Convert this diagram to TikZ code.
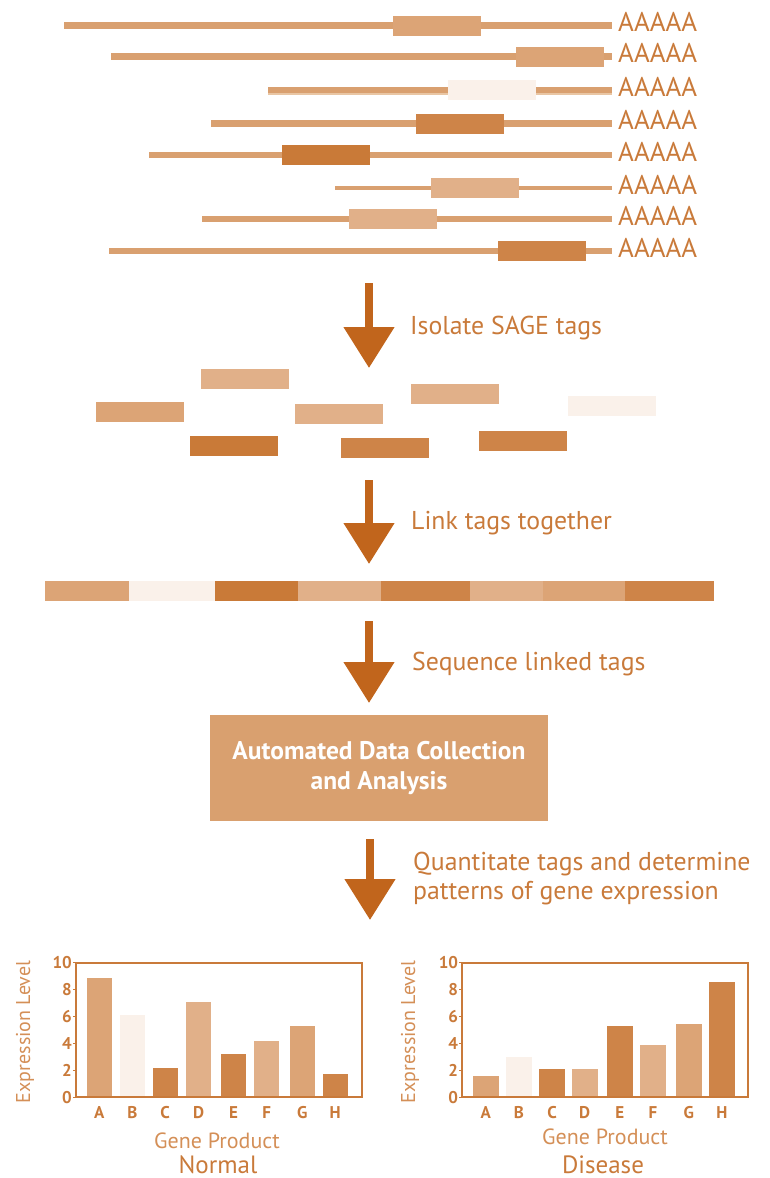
\documentclass[tikz,border=0pt]{standalone}
\usepackage{fontspec}
\setmainfont{PT Sans}
\usetikzlibrary{arrows.meta}

\definecolor{tanM}{HTML}{DCA476}
\definecolor{tanL}{HTML}{E1B089}
\definecolor{tanVL}{HTML}{FAF1EA}
\definecolor{tanD}{HTML}{CE8448}
\definecolor{tanDD}{HTML}{C97A38}
\definecolor{tanLine}{HTML}{D9A070}
\definecolor{tanPale}{HTML}{E9C6A4}
\definecolor{arrowc}{HTML}{C1651C}
\definecolor{txtc}{HTML}{C97A3A}
\definecolor{txtl}{HTML}{D48F57}
\definecolor{boxc}{HTML}{D9A06F}

\tikzset{
  mrna/.style={line width=6.5pt, tanLine},
  tagbox/.style={rectangle, inner sep=0pt, minimum width=88pt, minimum height=20pt},
  polyA/.style={anchor=base west, inner sep=0pt, text=txtc, font=\fontsize{27}{30}\selectfont},
  stepnote/.style={anchor=base west, inner sep=0pt, text=txtc, font=\fontsize{25.8}{30}\selectfont, align=left},
  flow/.style={arrowc, line width=8pt, -{Triangle[width=49pt,length=41pt]}},
  frame/.style={draw=txtc, line width=2pt},
  ticklab/.style={anchor=base east, inner sep=0pt, text=txtc, font=\bfseries\fontsize{17}{20}\selectfont},
  barlab/.style={anchor=base, inner sep=0pt, text=txtc, font=\bfseries\fontsize{17}{20}\selectfont},
  axtitle/.style={anchor=base, inner sep=0pt, text=txtl, font=\fontsize{22}{26}\selectfont},
  ytitle/.style={anchor=center, inner sep=0pt, text=txtl, rotate=90, font=\fontsize{20}{24}\selectfont},
  charttitle/.style={anchor=base, inner sep=0pt, text=txtc, font=\fontsize{25}{30}\selectfont},
}

\begin{document}
\begin{tikzpicture}[x=1pt, y=-1pt]
\useasboundingbox (0,0) rectangle (769,1178);

% ---- transcripts with their tag regions and poly-A tails ----
\foreach \n/\xs/\yy/\bx/\col in {1/64/25.7/437/tanM, 2/111/56.7/560/tanM, 3/268/90/492/tanVL,
    4/211/123.7/460/tanD, 5/149/155/326/tanDD, 6/335/188/474.5/tanL, 7/202/219/392.5/tanL,
    8/109/251/542/tanD}{
  \ifnum\n=3
    \draw[line width=3pt, tanPale] (\xs,\yy+3) -- (612,\yy+3);
  \fi
  \ifnum\n=6
    \draw[mrna, line width=4.5pt] (\xs,\yy) coordinate (m\n a) -- (612,\yy) coordinate (m\n b);
  \else
    \draw[mrna] (\xs,\yy) coordinate (m\n a) -- (612,\yy) coordinate (m\n b);
  \fi
  \node[tagbox, fill=\col] (t\n) at (\bx,\yy) {};
  \node[polyA] (pa\n) at (618,\yy+6) {AAAAA};
}

% ---- isolated tags ----
\node[tagbox, fill=tanL]  (s1) at (245,379) {};
\node[tagbox, fill=tanM]  (s2) at (139.7,412.3) {};
\node[tagbox, fill=tanDD] (s3) at (234,445.7) {};
\node[tagbox, fill=tanL]  (s4) at (339,414.3) {};
\node[tagbox, fill=tanD]  (s5) at (385,447.7) {};
\node[tagbox, fill=tanL]  (s6) at (455,394.3) {};
\node[tagbox, fill=tanD]  (s7) at (522.8,441) {};
\node[tagbox, fill=tanVL] (s8) at (612,405.7) {};

% ---- concatemer of linked tags ----
\foreach \i/\xa/\xb/\col in {1/44.8/129/tanM, 2/129/215.3/tanVL, 3/215.3/297.5/tanDD,
    4/297.5/381.3/tanL, 5/381.3/470.4/tanD, 6/470.4/543.3/tanL, 7/543.3/624.6/tanM,
    8/624.6/713.8/tanD}{
  \fill[\col] (\xa,580.7) rectangle (\xb,600.7);
}

% ---- analysis box ----
\node[rectangle, fill=boxc, minimum width=338pt, minimum height=105.7pt, inner sep=0pt,
      text=white, align=center, font=\bfseries\fontsize{25.5}{30}\selectfont] (auto) at (379,767.8)
      {Automated Data Collection\\and Analysis};

% ---- process arrows and their notes ----
\coordinate (a1s) at (369,283);  \coordinate (a1e) at (369,368);
\coordinate (a2s) at (369,480);  \coordinate (a2e) at (369,564);
\coordinate (a3s) at (369,621);  \coordinate (a3e) at (369,703);
\coordinate (a4s) at (370,839);  \coordinate (a4e) at (370,920);
\draw[flow] (a1s) -- (a1e);
\draw[flow] (a2s) -- (a2e);
\draw[flow] (a3s) -- (a3e);
\draw[flow] (a4s) -- (a4e);
\node[stepnote] (n1) at (410,334) {Isolate SAGE tags};
\node[stepnote] (n2) at (411,529) {Link tags together};
\node[stepnote] (n3) at (412,670) {Sequence linked tags};
\node[stepnote] (n4) at (413,870) {Quantitate tags and determine};
\node[stepnote] (n5) at (413,899.5) {patterns of gene expression};

% ---- bar charts ----
\foreach \ch/\xo/\yt in {N/76/25, D/462.3/410}{
  \draw[frame] (\xo,963) rectangle (\xo+285.7,1097.3);
  \foreach \v in {0,2,...,10}{
    \draw[txtc, line width=1.5pt] (\xo-3,1097.3-13.46*\v) -- (\xo,1097.3-13.46*\v);
    \node[ticklab] at (\xo-4,1097.3-13.46*\v+6) {\v};
  }
  \node[ytitle] (yl\ch) at (\yt,1032) {Expression Level};
}
\node[axtitle] (gpN) at (217,1148.3) {Gene Product};
\node[axtitle] (gpD) at (605,1144) {Gene Product};
\node[charttitle] (ttN) at (218,1173) {Normal};
\node[charttitle] (ttD) at (603,1173) {Disease};

% normal sample
\foreach \L/\xa/\v/\col in {A/86.7/8.9/tanM, B/120/6.1/tanVL, C/152.7/2.2/tanD, D/186/7.1/tanL,
    E/221/3.2/tanD, F/254.3/4.2/tanL, G/289.7/5.3/tanM, H/322.7/1.7/tanD}{
  \fill[\col] (\xa,1096.3) rectangle (\xa+25,1097.3-13.46*\v);
  \node[barlab] at (\xa+12.5,1118.3) {\L};
}
% disease sample
\foreach \L/\xa/\v/\col in {A/472.7/1.6/tanM, B/506/3.0/tanVL, C/539/2.1/tanD, D/571.7/2.1/tanL,
    E/606.7/5.3/tanD, F/640/3.9/tanL, G/675.7/5.45/tanM, H/709/8.6/tanD}{
  \fill[\col] (\xa,1096.3) rectangle (\xa+26,1097.3-13.46*\v);
  \node[barlab] at (\xa+13,1118.3) {\L};
}
\end{tikzpicture}
\end{document}
